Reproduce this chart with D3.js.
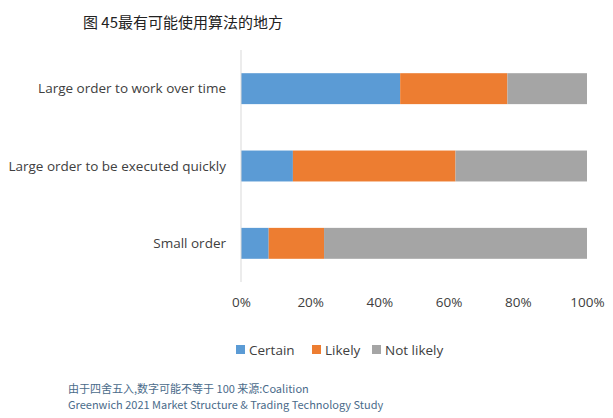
<!DOCTYPE html>
<html><head><meta charset="utf-8">
<script src="https://cdn.jsdelivr.net/npm/d3@7"></script>
<style>body{margin:0;background:#fff}</style>
</head><body><div class="chart"></div>
<script>
const categories = ['Large order to work over time', 'Large order to be executed quickly', 'Small order'];
const certain = [46, 15, 8];
const likely = [31, 47, 16];
const notLikely = [23, 38, 76];
const seriesNames = ['Certain', 'Likely', 'Not likely'];
const colors = ['#5b9bd5', '#ed7d31', '#a5a5a5'];
const ticks = [0, 20, 40, 60, 80, 100];

const w = 613, h = 418;
const svg = d3.select('.chart').append('svg').attr('width', w).attr('height', h)
  .style('font-family', '"Open Sans", "Noto Sans", sans-serif');

svg.append('text').attr('x', 83).attr('y', 28).attr('font-size', 15).attr('fill', '#222')
  .style('font-family', '"Noto Sans CJK SC", sans-serif').text('图 45最有可能使用算法的地方');

const table = categories.map((c, i) => ({cat: c, Certain: certain[i], Likely: likely[i], 'Not likely': notLikely[i]}));
const stack = d3.stack().keys(seriesNames)(table);

const x = d3.scaleLinear().domain([0, 100]).range([241, 587]);
const y = d3.scaleBand().domain(categories).range([50, 282]).paddingInner(0.6).paddingOuter(0.3);

svg.append('g').selectAll('g').data(stack).join('g').attr('fill', (d, i) => colors[i])
  .selectAll('rect').data(d => d).join('rect')
  .attr('x', d => x(d[0])).attr('width', d => x(d[1]) - x(d[0]))
  .attr('y', d => y(d.data.cat)).attr('height', y.bandwidth());

svg.append('line').attr('x1', 241).attr('x2', 241).attr('y1', 50).attr('y2', 282).attr('stroke', '#d9d9d9');

svg.append('g').selectAll('text').data(categories).join('text')
  .attr('x', 226).attr('y', d => y(d) + y.bandwidth() / 2).attr('dy', '0.35em')
  .attr('text-anchor', 'end').attr('font-size', 13.5).attr('fill', '#404040').text(d => d);

const xAxis = d3.axisBottom(x).tickValues(ticks).tickFormat(d => d + '%').tickSize(0).tickPadding(0);
const gx = svg.append('g').attr('transform', 'translate(0,307)').call(xAxis);
gx.select('.domain').remove();
gx.selectAll('text').attr('font-size', 13.5).attr('fill', '#404040').attr('dy', 0)
  .style('font-family', '"Open Sans", "Noto Sans", sans-serif');

const legX = [236, 312, 372];
const leg = svg.append('g').selectAll('g').data(seriesNames).join('g')
  .attr('transform', (d, i) => `translate(${legX[i]},350)`);
leg.append('rect').attr('y', -5).attr('width', 9).attr('height', 9).attr('fill', (d, i) => colors[i]);
leg.append('text').attr('x', 13).attr('dy', '0.35em').attr('font-size', 13.5).attr('fill', '#404040').text(d => d);

const notes = ['由于四舍五入,数字可能不等于 100 来源:Coalition', 'Greenwich 2021 Market Structure & Trading Technology Study'];
svg.append('g').selectAll('text').data(notes).join('text')
  .attr('x', 68).attr('y', (d, i) => 393 + i * 16).attr('font-size', 11).attr('fill', '#4a6b8a')
  .style('font-family', '"Noto Sans CJK SC", sans-serif').text(d => d);
</script></body></html>
